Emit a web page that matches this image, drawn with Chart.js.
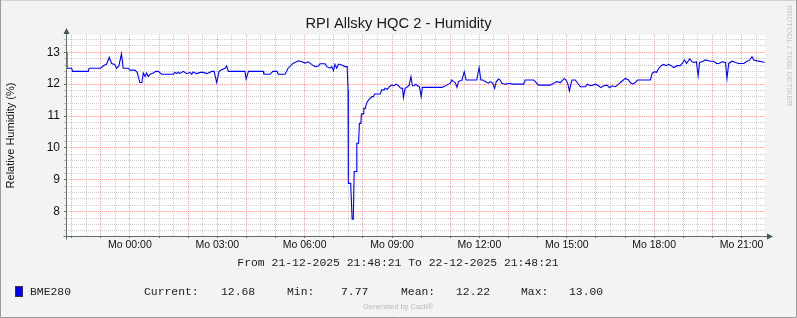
<!DOCTYPE html>
<html>
<head>
<meta charset="utf-8">
<script src="https://cdn.jsdelivr.net/npm/chart.js@4.4.1/dist/chart.umd.min.js"></script>
<style>
html, body { margin: 0; padding: 0; background: #f3f3f3; }
</style>
</head>
<body>
<canvas id="myChart" width="797" height="318"></canvas>
<script>
// hours relative to Monday 00:00
const hours = [
    -2.19, -2.16, -2.00, -1.97, -1.43, -1.40, -1.01, -0.92, -0.80, -0.71, -0.63, -0.52, -0.46, -0.38, -0.29, -0.23, -0.06,
    0.00, 0.17, 0.25, 0.34, 0.41, 0.46, 0.52, 0.57, 0.63, 0.69, 0.80, 0.89, 0.97, 1.09, 1.49, 1.54, 1.60, 1.66, 1.71,
    1.83, 1.95, 2.06, 2.12, 2.17, 2.29, 2.41, 2.52, 2.64, 2.81, 2.89, 2.98, 3.06, 3.15, 3.26, 3.32, 3.38, 3.95, 3.99,
    4.07, 4.58, 4.60, 4.81, 4.91, 5.05, 5.09, 5.33, 5.43, 5.60, 5.78, 5.90, 6.01, 6.12, 6.24, 6.36, 6.47, 6.53, 6.70,
    6.76, 6.87, 6.93, 6.99, 7.04, 7.10, 7.16, 7.27, 7.39, 7.46, 7.49, 7.50, 7.58, 7.63, 7.67, 7.70, 7.77, 7.79, 7.85,
    7.88, 7.93, 7.95, 8.01, 8.03, 8.08, 8.11, 8.15, 8.22, 8.31, 8.36, 8.40, 8.59, 8.65, 8.73, 8.76, 8.84, 8.91, 8.99,
    9.07, 9.14, 9.22, 9.30, 9.36, 9.39, 9.45, 9.53, 9.59, 9.65, 9.70, 9.76, 9.82, 9.87, 9.94, 10.00, 10.04, 10.71,
    10.77, 10.88, 11.00, 11.05, 11.11, 11.17, 11.23, 11.28, 11.40, 11.48, 11.54, 11.91, 11.99, 12.05, 12.12, 12.20,
    12.31, 12.37, 12.46, 12.52, 12.58, 12.66, 12.71, 12.77, 12.89, 13.06, 13.12, 13.52, 13.57, 13.86, 13.92, 14.03,
    14.43, 14.55, 14.66, 14.78, 14.86, 14.91, 14.97, 15.03, 15.09, 15.15, 15.18, 15.29, 15.41, 15.46, 15.64, 15.71,
    15.81, 15.90, 15.98, 16.09, 16.17, 16.26, 16.38, 16.47, 16.55, 16.67, 16.78, 16.90, 17.01, 17.12, 17.18, 17.26,
    17.35, 17.43, 17.87, 17.93, 18.01, 18.08, 18.16, 18.24, 18.33, 18.42, 18.50, 18.58, 18.67, 18.79, 18.90, 18.96,
    19.04, 19.11, 19.16, 19.22, 19.30, 19.38, 19.45, 19.51, 19.56, 19.68, 19.76, 19.93, 20.04, 20.14, 20.22, 20.33,
    20.45, 20.50, 20.56, 20.68, 20.79, 20.90, 21.08, 21.19, 21.28, 21.36, 21.42, 21.53, 21.70, 21.79
];
const humidity = [
    13.00, 12.50, 12.50, 12.40, 12.40, 12.50, 12.50, 12.57, 12.63, 12.84, 12.65, 12.62, 12.50, 12.57, 12.95, 12.50, 12.50,
    12.44, 12.44, 12.37, 12.05, 12.05, 12.35, 12.24, 12.35, 12.24, 12.31, 12.35, 12.40, 12.40, 12.31, 12.31, 12.37, 12.33, 12.38, 12.33,
    12.40, 12.33, 12.37, 12.31, 12.38, 12.33, 12.37, 12.37, 12.33, 12.40, 12.40, 12.05, 12.40, 12.45, 12.50, 12.57, 12.40, 12.40, 12.16,
    12.40, 12.40, 12.31, 12.31, 12.40, 12.40, 12.31, 12.31, 12.50, 12.65, 12.73, 12.70, 12.66, 12.70, 12.62, 12.55, 12.57, 12.64, 12.64,
    12.55, 12.50, 12.55, 12.43, 12.62, 12.50, 12.63, 12.60, 12.55, 12.55, 11.82, 8.89, 8.89, 7.77, 7.77, 9.26, 9.26, 10.15, 10.15,
    10.77, 10.77, 11.07, 11.07, 11.24, 11.24, 11.35, 11.45, 11.53, 11.61, 11.61, 11.69, 11.69, 11.82, 11.82, 11.87, 11.84, 11.92, 11.97,
    11.95, 12.00, 11.95, 11.87, 11.87, 11.58, 11.87, 11.92, 11.97, 12.24, 11.95, 11.95, 12.00, 11.95, 11.92, 11.61, 11.90, 11.90,
    11.92, 11.97, 12.03, 12.13, 12.08, 12.05, 11.90, 12.08, 12.13, 12.39, 12.13, 12.13, 12.52, 12.13, 12.13, 12.08,
    12.03, 12.08, 12.03, 11.87, 12.08, 12.16, 12.13, 12.03, 12.00, 12.03, 12.00, 12.00, 12.13, 12.13, 12.08, 11.97,
    11.97, 12.03, 12.08, 12.05, 12.13, 12.18, 12.13, 12.03, 11.79, 12.03, 12.13, 12.13, 11.99, 11.92, 11.92, 12.00,
    11.95, 11.97, 12.00, 11.95, 11.89, 11.95, 11.97, 11.89, 11.95, 11.92, 12.00, 12.10, 12.18, 12.13, 12.05, 12.00,
    12.05, 12.13, 12.13, 12.34, 12.39, 12.37, 12.50, 12.58, 12.62, 12.58, 12.62, 12.58, 12.52, 12.58, 12.58, 12.65,
    12.76, 12.65, 12.72, 12.79, 12.70, 12.68, 12.70, 12.27, 12.68, 12.72, 12.76, 12.72, 12.72, 12.65, 12.65, 12.70,
    12.68, 12.18, 12.65, 12.72, 12.68, 12.65, 12.65, 12.72, 12.76, 12.86, 12.76, 12.73, 12.70, 12.68
];

const startHour = -2.1942;   // 21-12-2025 21:48:21
const endHour = 21.8058;     // 22-12-2025 21:48:21
const yMin = 7.24;
const yMax = 13.54;

const labelHours = [0, 3, 6, 9, 12, 15, 18, 21];
const labelTexts = ['Mo 00:00', 'Mo 03:00', 'Mo 06:00', 'Mo 09:00', 'Mo 12:00', 'Mo 15:00', 'Mo 18:00', 'Mo 21:00'];
const yLabelValues = [8, 9, 10, 11, 12, 13];

const seriesName = 'BME280';
const statNames = ['Current:', 'Min:', 'Mean:', 'Max:'];
const statValues = ['12.68', '7.77', '12.22', '13.00'];

const majorGrid = 'rgba(235, 120, 120, 0.65)';
const minorGrid = 'rgba(190, 190, 190, 0.75)';
const axisColor = '#5d6e64';

function isWhole(v) {
    return Math.abs(v - Math.round(v)) < 1e-6;
}

const rrdExtras = {
    id: 'rrdExtras',
    beforeDraw(chart) {
        const ctx = chart.ctx;
        const a = chart.chartArea;
        ctx.save();
        ctx.fillStyle = '#f3f3f3';
        ctx.fillRect(0, 0, chart.width, chart.height);
        ctx.fillStyle = '#ffffff';
        ctx.fillRect(a.left, a.top, a.right - a.left, a.bottom - a.top);
        ctx.restore();
    },
    afterDraw(chart) {
        const ctx = chart.ctx;
        const a = chart.chartArea;
        const x0 = Math.round(a.left) + 0.5;
        const y0 = Math.round(a.bottom) + 0.5;
        ctx.save();

        // axes with arrow heads
        ctx.strokeStyle = axisColor;
        ctx.lineWidth = 1;
        ctx.beginPath();
        ctx.moveTo(x0, y0 + 3);
        ctx.lineTo(x0, a.top - 4);
        ctx.moveTo(x0 - 3, y0);
        ctx.lineTo(a.right + 4, y0);
        ctx.stroke();
        ctx.fillStyle = '#3d5a4c';
        ctx.beginPath();
        ctx.moveTo(x0, a.top - 7);
        ctx.lineTo(x0 - 3, a.top - 1);
        ctx.lineTo(x0 + 3, a.top - 1);
        ctx.closePath();
        ctx.fill();
        ctx.beginPath();
        ctx.moveTo(a.right + 8, y0);
        ctx.lineTo(a.right + 2, y0 - 3);
        ctx.lineTo(a.right + 2, y0 + 3);
        ctx.closePath();
        ctx.fill();

        // period line
        ctx.fillStyle = '#222';
        ctx.font = '11.4px "Liberation Mono"';
        ctx.textAlign = 'center';
        ctx.textBaseline = 'middle';
        ctx.fillText('From 21-12-2025 21:48:21 To 22-12-2025 21:48:21', 398, 263);

        // legend row
        ctx.fillStyle = '#0000ff';
        ctx.fillRect(15, 286, 8, 11);
        ctx.strokeStyle = '#333';
        ctx.strokeRect(15.5, 286.5, 7, 10);
        ctx.fillStyle = '#222';
        ctx.textAlign = 'left';
        ctx.fillText(seriesName, 30, 291.5);
        const nameX = [144, 287, 401, 521];
        const valX = [221, 341, 456, 569];
        for (let i = 0; i < statNames.length; i++) {
            ctx.fillText(statNames[i], nameX[i], 291.5);
            ctx.fillText(statValues[i], valX[i], 291.5);
        }

        // watermark texts
        ctx.fillStyle = '#b9b9b9';
        ctx.font = '7.5px "Liberation Sans"';
        ctx.textAlign = 'center';
        ctx.fillText('Generated by Cacti\u00ae', 398, 307);

        ctx.fillStyle = '#c4c4c4';
        ctx.font = '8px "Liberation Sans"';
        ctx.textAlign = 'left';
        ctx.translate(789, 5);
        ctx.rotate(Math.PI / 2);
        ctx.fillText('RRDTOOL / TOBI OETIKER', 0, 0);
        ctx.restore();

        // frame
        ctx.save();
        ctx.lineWidth = 1;
        ctx.strokeStyle = '#d2d2d2';
        ctx.beginPath();
        ctx.moveTo(0, 0.5);
        ctx.lineTo(797, 0.5);
        ctx.stroke();
        ctx.strokeStyle = '#9c9c9c';
        ctx.beginPath();
        ctx.moveTo(0.5, 0);
        ctx.lineTo(0.5, 317.5);
        ctx.lineTo(796.5, 317.5);
        ctx.lineTo(796.5, 0);
        ctx.stroke();
        ctx.restore();
    }
};

const data = {
    datasets: [{
        label: seriesName,
        data: hours.map((h, i) => ({ x: h, y: humidity[i] })),
        borderColor: '#0000ff',
        borderWidth: 1.1,
        pointRadius: 0,
        tension: 0,
        fill: false
    }]
};

const config = {
    type: 'line',
    data: data,
    options: {
        responsive: false,
        animation: false,
        layout: { padding: { left: 0, right: 0, top: 0, bottom: 60 } },
        plugins: {
            legend: { display: false },
            tooltip: { enabled: false },
            title: {
                display: true,
                text: 'RPI Allsky HQC 2 - Humidity',
                color: '#1a1a1a',
                font: { family: 'Liberation Sans', size: 14.7, weight: 'normal' },
                padding: { top: 15, bottom: 2.4 }
            }
        },
        scales: {
            x: {
                type: 'linear',
                min: startHour,
                max: endHour,
                afterBuildTicks: scale => {
                    const t = [];
                    for (let h = Math.ceil(startHour * 2) / 2; h <= endHour; h += 0.5) t.push({ value: h });
                    scale.ticks = t;
                },
                afterFit: scale => { scale.height = 22; },
                grid: {
                    color: c => isWhole(c.tick.value) ? majorGrid : minorGrid,
                    lineWidth: 1,
                    drawTicks: true,
                    tickLength: 2,
                    tickColor: c => isWhole(c.tick.value) ? axisColor : 'rgba(0,0,0,0)'
                },
                border: { display: false, dash: [1, 1] },
                ticks: {
                    autoSkip: false,
                    maxRotation: 0,
                    padding: 1,
                    color: '#111',
                    font: { family: 'Liberation Sans', size: 10.5 },
                    callback: v => {
                        const i = labelHours.indexOf(v);
                        return i >= 0 ? labelTexts[i] : '';
                    }
                }
            },
            y: {
                min: yMin,
                max: yMax,
                afterBuildTicks: scale => {
                    const t = [];
                    for (let k = Math.ceil(yMin * 5); k <= Math.floor(yMax * 5); k++) t.push({ value: k / 5 });
                    scale.ticks = t;
                },
                afterFit: scale => { scale.width = 66; },
                grid: {
                    color: c => isWhole(c.tick.value) ? majorGrid : minorGrid,
                    lineWidth: 1,
                    drawTicks: true,
                    tickLength: 2,
                    tickColor: c => isWhole(c.tick.value) ? axisColor : 'rgba(93,110,100,0.4)'
                },
                border: { display: false, dash: [1, 1] },
                ticks: {
                    autoSkip: false,
                    padding: 4,
                    color: '#111',
                    font: { family: 'Liberation Sans', size: 12 },
                    callback: v => (isWhole(v) && yLabelValues.includes(Math.round(v))) ? String(Math.round(v)) : ''
                },
                title: {
                    display: true,
                    text: 'Relative Humidity (%)',
                    color: '#111',
                    font: { family: 'Liberation Sans', size: 11 },
                    padding: { top: 4, bottom: 0 }
                }
            },
            // empty right-hand axis: keeps the plot's right margin while the title stays centred on the page
            yRight: {
                position: 'right',
                min: yMin,
                max: yMax,
                afterFit: scale => { scale.width = 32; },
                grid: { display: false, drawOnChartArea: false },
                border: { display: false },
                ticks: { display: false }
            }
        }
    },
    plugins: [rrdExtras]
};

const myChart = new Chart(document.getElementById('myChart'), config);
</script>
</body>
</html>
